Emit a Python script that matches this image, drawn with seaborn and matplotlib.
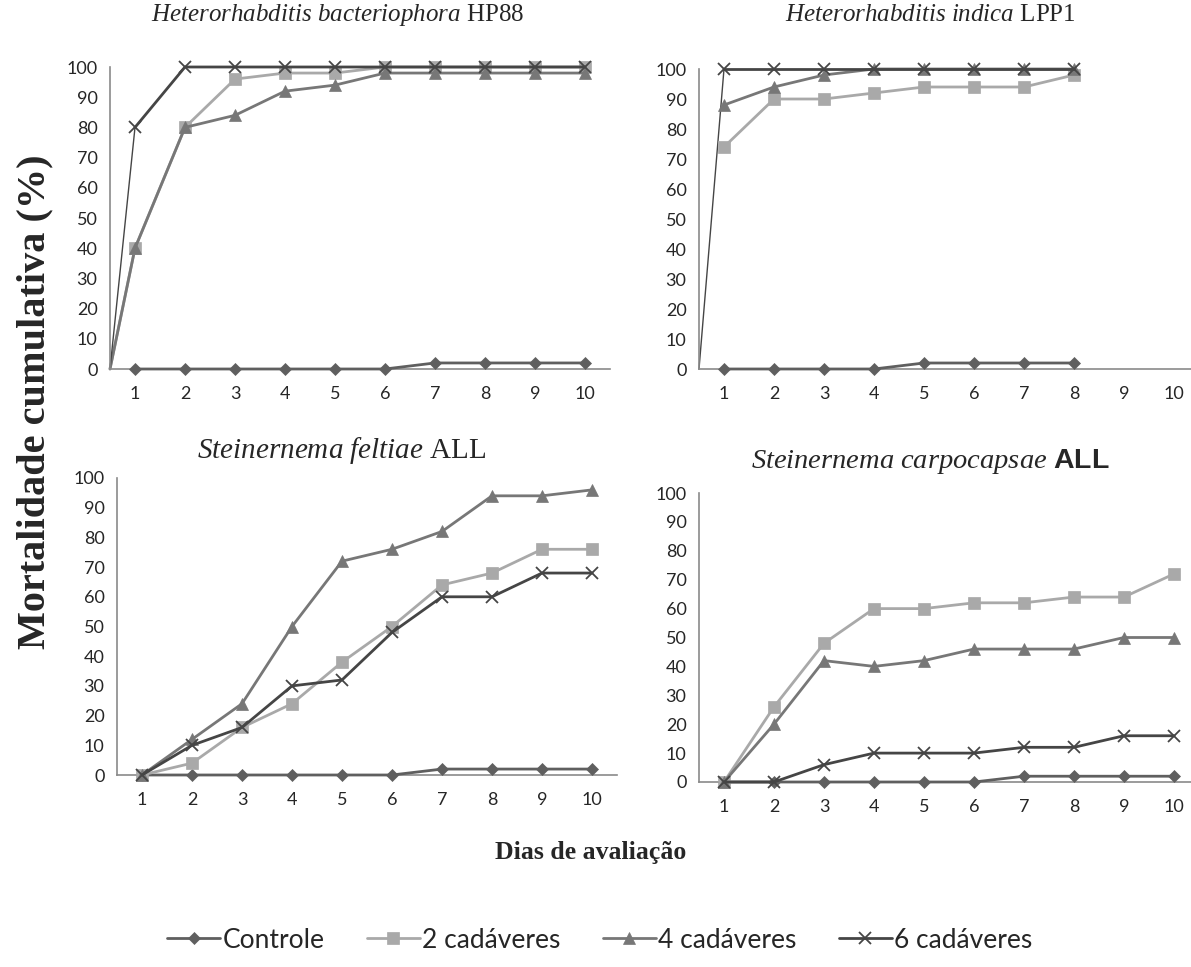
import numpy as np
import pandas as pd
import seaborn as sns
import matplotlib
matplotlib.use("Agg")
import matplotlib.pyplot as plt
from matplotlib.ticker import MultipleLocator

# dados
tratamentos = ["Controle", "2 cadáveres", "4 cadáveres", "6 cadáveres"]
dias10 = [1, 2, 3, 4, 5, 6, 7, 8, 9, 10]
dias8 = [1, 2, 3, 4, 5, 6, 7, 8]

hb_controle = [0, 0, 0, 0, 0, 0, 2, 2, 2, 2]
hb_2cad = [40, 80, 96, 98, 98, 100, 100, 100, 100, 100]
hb_4cad = [40, 80, 84, 92, 94, 98, 98, 98, 98, 98]
hb_6cad = [80, 100, 100, 100, 100, 100, 100, 100, 100, 100]

hi_controle = [0, 0, 0, 0, 2, 2, 2, 2]
hi_2cad = [74, 90, 90, 92, 94, 94, 94, 98]
hi_4cad = [88, 94, 98, 100, 100, 100, 100, 100]
hi_6cad = [100, 100, 100, 100, 100, 100, 100, 100]

sf_controle = [0, 0, 0, 0, 0, 0, 2, 2, 2, 2]
sf_2cad = [0, 4, 16, 24, 38, 50, 64, 68, 76, 76]
sf_4cad = [0, 12, 24, 50, 72, 76, 82, 94, 94, 96]
sf_6cad = [0, 10, 16, 30, 32, 48, 60, 60, 68, 68]

sc_controle = [0, 0, 0, 0, 0, 0, 2, 2, 2, 2]
sc_2cad = [0, 26, 48, 60, 60, 62, 62, 64, 64, 72]
sc_4cad = [0, 20, 42, 40, 42, 46, 46, 46, 50, 50]
sc_6cad = [0, 0, 6, 10, 10, 10, 12, 12, 16, 16]

titulos = [
    r"$\mathit{Heterorhabditis\ bacteriophora}$ HP88",
    r"$\mathit{Heterorhabditis\ indica}$ LPP1",
    r"$\mathit{Steinernema\ feltiae}$ ALL",
    r"$\mathit{Steinernema\ carpocapsae}$ $\mathbf{ALL}$",
]

cores = ["#5f5f5f", "#a9a9a9", "#777777", "#454545"]
marcadores = ["D", "s", "^", "x"]
tamanhos = [6, 8, 8, 9]

sns.set_style("white")
plt.rcParams["font.family"] = ["Lato", "DejaVu Sans"]
plt.rcParams["mathtext.fontset"] = "custom"
plt.rcParams["mathtext.rm"] = "Liberation Serif"
plt.rcParams["mathtext.it"] = "Liberation Serif:italic"
plt.rcParams["mathtext.bf"] = "Liberation Sans:bold"

fig = plt.figure(figsize=(11.91, 9.67), dpi=100)

W, H = 1191, 967
def pos(x0, x1, ytop, ybot):
    return [x0 / W, 1 - ybot / H, (x1 - x0) / W, (ybot - ytop) / H]

# (posicao, dias, series, series com linha saindo da origem)
paineis = [
    (pos(110, 610, 67, 369), dias10, [hb_controle, hb_2cad, hb_4cad, hb_6cad], [1, 2, 3]),
    (pos(699, 1199, 69, 369), dias8, [hi_controle, hi_2cad, hi_4cad, hi_6cad], [3]),
    (pos(117, 617, 478, 775), dias10, [sf_controle, sf_2cad, sf_4cad, sf_6cad], []),
    (pos(699, 1199, 493, 782), dias10, [sc_controle, sc_2cad, sc_4cad, sc_6cad], []),
]

eixos = []
for rect, dias, series, origem in paineis:
    ax = fig.add_axes(rect)
    eixos.append(ax)
    for i, vals in enumerate(series):
        if i in origem:
            # linha partindo da origem (como no original)
            ax.plot([0.5, dias[0]], [0, vals[0]], color=cores[i],
                    lw=1.0 if i == 3 else 2.0, clip_on=False, zorder=2)
        sns.lineplot(x=dias, y=vals, ax=ax, color=cores[i], marker=marcadores[i],
                     markersize=tamanhos[i], markeredgecolor=cores[i],
                     markeredgewidth=1.3 if i == 3 else 0.5, lw=2.0,
                     clip_on=False, label=tratamentos[i], zorder=3 + i)
    ax.set_xlim(0.5, 10.5)
    ax.set_ylim(0, 100)
    ax.set_xticks(dias10)
    ax.xaxis.set_minor_locator(MultipleLocator(1, offset=0.5))
    ax.yaxis.set_major_locator(MultipleLocator(10))
    ax.tick_params(axis="x", which="major", length=0, pad=12, labelsize=13)
    ax.tick_params(axis="x", which="minor", length=6, width=1, color="#8a8a8a", direction="out")
    ax.tick_params(axis="y", length=5, width=1, color="#8a8a8a", direction="out", pad=4, labelsize=13)
    for s in ["top", "right"]:
        ax.spines[s].set_visible(False)
    for s in ["left", "bottom"]:
        ax.spines[s].set_color("#8a8a8a")
        ax.spines[s].set_linewidth(1.2)
    ax.set_xlabel("")
    ax.set_ylabel("")
    ax.get_legend().remove()

tit_pos = [(338, 15), (930, 15), (342, 450), (930, 462)]
tit_tam = [18, 18, 21, 20.5]
for (tx, ty), t, fs in zip(tit_pos, titulos, tit_tam):
    fig.text(tx / W, 1 - ty / H, t, ha="center", va="center", fontsize=fs,
             family="Liberation Serif")

fig.text(35 / W, 1 - 402 / H, "Mortalidade cumulativa (%)", rotation=90, ha="center",
         va="center", fontsize=29, fontweight="bold", family="Liberation Serif")
fig.text(591 / W, 1 - 852 / H, "Dias de avaliação", ha="center", va="center",
         fontsize=18.5, fontweight="bold", family="Liberation Serif")

handles, labels = eixos[0].get_legend_handles_labels()
fig.legend(handles, labels, loc="center", bbox_to_anchor=(600 / W, 1 - 940 / H), ncol=4,
           frameon=False, fontsize=19, handlelength=2.0, columnspacing=1.6, handletextpad=0.1)

fig.savefig("out.png", dpi=100)
